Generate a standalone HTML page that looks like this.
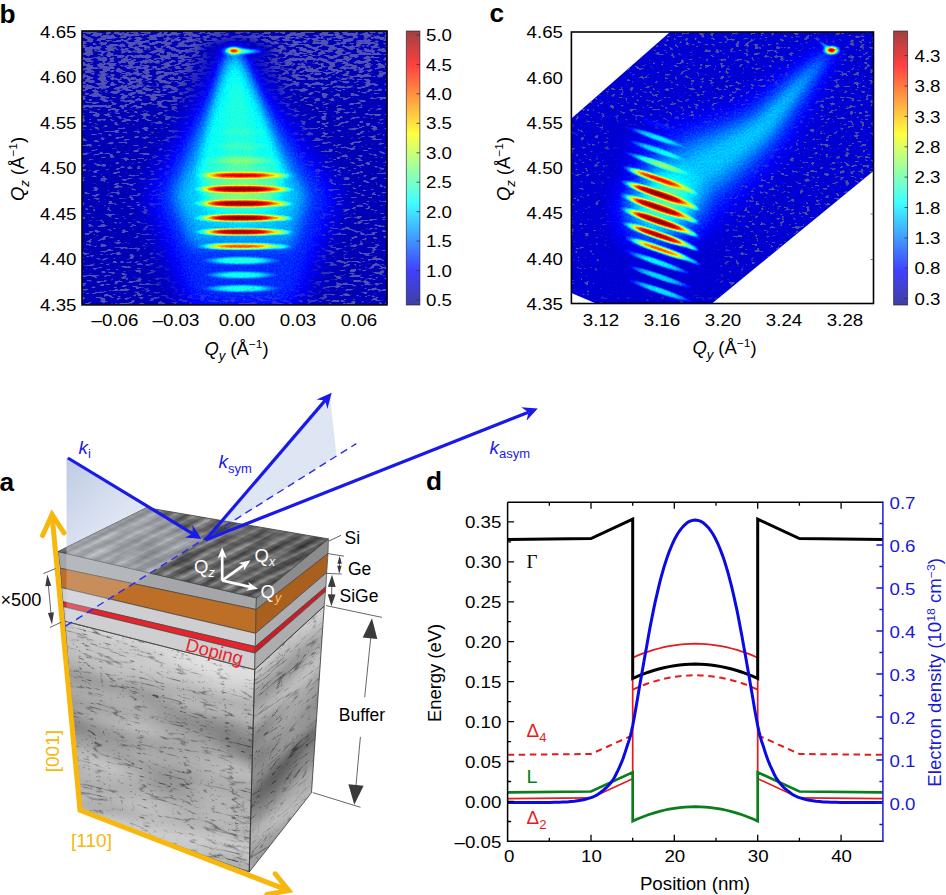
<!DOCTYPE html>
<html lang="en"><head><meta charset="utf-8"><title>Figure</title>
<style>
html,body{margin:0;padding:0;background:#fff;}
svg{display:block;font-family:"Liberation Sans", sans-serif;}
</style></head><body>
<svg width="946" height="895" viewBox="0 0 946 895">
<rect width="946" height="895" fill="#fff"/>
<defs>
<radialGradient id="blob"><stop offset="0" stop-color="#fff" stop-opacity="1"/><stop offset=".25" stop-color="#fff" stop-opacity=".88"/><stop offset=".5" stop-color="#fff" stop-opacity=".55"/><stop offset=".75" stop-color="#fff" stop-opacity=".2"/><stop offset="1" stop-color="#fff" stop-opacity="0"/></radialGradient>
<radialGradient id="blobf"><stop offset="0" stop-color="#fff" stop-opacity="1"/><stop offset=".38" stop-color="#fff" stop-opacity=".95"/><stop offset=".58" stop-color="#fff" stop-opacity=".7"/><stop offset=".78" stop-color="#fff" stop-opacity=".3"/><stop offset="1" stop-color="#fff" stop-opacity="0"/></radialGradient>
<linearGradient id="cbar" x1="0" y1="1" x2="0" y2="0">
<stop offset="0" stop-color="#4040a0"/><stop offset=".125" stop-color="#4040ff"/><stop offset=".375" stop-color="#40ffff"/><stop offset=".625" stop-color="#ffff40"/><stop offset=".875" stop-color="#ff4040"/><stop offset="1" stop-color="#a04040"/></linearGradient>
<filter id="jetb" filterUnits="userSpaceOnUse" x="82" y="31" width="306" height="274" color-interpolation-filters="sRGB">
<feTurbulence type="fractalNoise" baseFrequency="0.55" numOctaves="2" seed="3" result="n"/>
<feColorMatrix in="n" type="matrix" values="1 0 0 0 0 1 0 0 0 0 1 0 0 0 0 0 0 0 0 1" result="ng"/>
<feComposite in="SourceGraphic" in2="ng" operator="arithmetic" k1="0" k2="1" k3="0.09" k4="-0.045" result="v"/>
<feComponentTransfer in="v"><feFuncR type="table" tableValues="0 0 0 0 .5 1 1 1 .5"/><feFuncG type="table" tableValues="0 0 .5 1 1 1 .5 0 0"/><feFuncB type="table" tableValues=".5 1 1 1 .5 0 0 0 0"/></feComponentTransfer>
</filter>
<filter id="jetc" filterUnits="userSpaceOnUse" x="571" y="32" width="303" height="272" color-interpolation-filters="sRGB">
<feTurbulence type="fractalNoise" baseFrequency="0.55" numOctaves="2" seed="11" result="n"/>
<feColorMatrix in="n" type="matrix" values="1 0 0 0 0 1 0 0 0 0 1 0 0 0 0 0 0 0 0 1" result="ng"/>
<feComposite in="SourceGraphic" in2="ng" operator="arithmetic" k1="0" k2="1" k3="0.09" k4="-0.045" result="v"/>
<feComponentTransfer in="v"><feFuncR type="table" tableValues="0 0 0 0 .5 1 1 1 .5"/><feFuncG type="table" tableValues="0 0 .5 1 1 1 .5 0 0"/><feFuncB type="table" tableValues=".5 1 1 1 .5 0 0 0 0"/></feComponentTransfer>
</filter>
<filter id="spb" filterUnits="userSpaceOnUse" x="82" y="31" width="306" height="274" color-interpolation-filters="sRGB">
<feTurbulence type="fractalNoise" baseFrequency="0.14 0.36" numOctaves="2" seed="5" result="n"/>
<feComposite in="n" in2="SourceGraphic" operator="arithmetic" k1="0" k2="1" k3="0.5" k4="-0.25" result="m"/>
<feComponentTransfer in="m" result="t"><feFuncA type="linear" slope="14" intercept="-6.9"/></feComponentTransfer>
<feFlood flood-color="#5252b4" result="f"/>
<feComposite in="f" in2="t" operator="in"/>
</filter>
<filter id="spc" filterUnits="userSpaceOnUse" x="571" y="32" width="303" height="272" color-interpolation-filters="sRGB">
<feTurbulence type="fractalNoise" baseFrequency="0.2 0.34" numOctaves="2" seed="9" result="n"/>
<feComposite in="n" in2="SourceGraphic" operator="arithmetic" k1="0" k2="1" k3="0.5" k4="-0.25" result="m"/>
<feComponentTransfer in="m" result="t"><feFuncA type="linear" slope="14" intercept="-6.9"/></feComponentTransfer>
<feFlood flood-color="#5050a0" result="f"/>
<feComposite in="f" in2="t" operator="in"/>
</filter>
<clipPath id="clipb"><rect x="82" y="31" width="305.5" height="273.5"/></clipPath>
<clipPath id="clipc"><polygon points="670,32 873.5,32 873.5,171 712,303.5 596,303.5 571.4,293 571.4,118.5"/></clipPath>
<filter id="blur4" x="-30%" y="-30%" width="160%" height="160%"><feGaussianBlur stdDeviation="4"/></filter>
<filter id="blur7" x="-30%" y="-30%" width="160%" height="160%"><feGaussianBlur stdDeviation="7"/></filter>
<filter id="blur12" x="-30%" y="-30%" width="160%" height="160%"><feGaussianBlur stdDeviation="12"/></filter>
<filter id="blur2" x="-30%" y="-30%" width="160%" height="160%"><feGaussianBlur stdDeviation="2"/></filter>
<filter id="blur3" x="-30%" y="-30%" width="160%" height="160%"><feGaussianBlur stdDeviation="3"/></filter>
<linearGradient id="spdb" gradientUnits="userSpaceOnUse" x1="0" y1="31" x2="30" y2="305"><stop offset="0" stop-color="#000" stop-opacity=".60"/><stop offset=".25" stop-color="#000" stop-opacity=".57"/><stop offset=".4" stop-color="#000" stop-opacity=".31"/><stop offset=".75" stop-color="#000" stop-opacity=".27"/><stop offset="1" stop-color="#000" stop-opacity=".37"/></linearGradient>
<mask id="mkb" maskUnits="userSpaceOnUse" x="82" y="31" width="306" height="274"><rect x="82" y="31" width="306" height="274" fill="#fff"/><g filter="url(#blur12)"><polygon points="233.5,36 205,50 150,200 160,300 320,300 330,200 262,50" fill="#000"/></g><g filter="url(#blur3)"><ellipse cx="238" cy="51" rx="34" ry="9" fill="#000"/></g></mask>
<mask id="mkc" maskUnits="userSpaceOnUse" x="571" y="32" width="303" height="272"><rect x="571" y="32" width="303" height="272" fill="#fff"/><g filter="url(#blur7)"><polygon points="612,120 600,300 720,300 728,200 790,140 846,52 824,36 760,100 690,128" fill="#000"/></g></mask>
<linearGradient id="spdc" gradientUnits="userSpaceOnUse" x1="590" y1="290" x2="860" y2="50"><stop offset="0" stop-color="#000" stop-opacity=".14"/><stop offset=".45" stop-color="#000" stop-opacity=".22"/><stop offset="1" stop-color="#000" stop-opacity=".28"/></linearGradient>
<clipPath id="clipLf"><polygon points="64.8,621.2 254.7,669.7 249.2,872.1 80,810.3"/></clipPath>
<clipPath id="clipRf"><polygon points="254.7,669.7 324.2,606.1 311.5,792.6 249.2,872.1"/></clipPath>
<clipPath id="clipTop"><polygon points="58.1,551.5 146.6,507.6 328.4,538.9 256.4,597.9"/></clipPath>
<linearGradient id="plane1" gradientUnits="userSpaceOnUse" x1="62" y1="470" x2="150" y2="560"><stop offset="0" stop-color="#bccae3" stop-opacity=".95"/><stop offset=".45" stop-color="#d3dcee" stop-opacity=".9"/><stop offset="1" stop-color="#e9eef7" stop-opacity=".85"/></linearGradient>
<linearGradient id="plane2" gradientUnits="userSpaceOnUse" x1="205" y1="540" x2="335" y2="430"><stop offset="0" stop-color="#c5d2ea" stop-opacity=".55"/><stop offset="1" stop-color="#d3ddef" stop-opacity=".75"/></linearGradient>
<linearGradient id="temL" gradientUnits="userSpaceOnUse" x1="0" y1="630" x2="0" y2="836"><stop offset="0" stop-color="#d9d9d9"/><stop offset=".07" stop-color="#d3d3d3"/><stop offset=".15" stop-color="#bebebe"/><stop offset=".27" stop-color="#aeaeae"/><stop offset=".38" stop-color="#9e9e9e"/><stop offset=".5" stop-color="#a7a7a7"/><stop offset=".68" stop-color="#b2b2b2"/><stop offset=".85" stop-color="#b8b8b8"/><stop offset="1" stop-color="#c9c9c9"/></linearGradient>
<linearGradient id="temR" gradientUnits="userSpaceOnUse" x1="0" y1="705" x2="0" y2="918"><stop offset="0" stop-color="#c4c4c4"/><stop offset=".1" stop-color="#adadad"/><stop offset=".3" stop-color="#9a9a9a"/><stop offset=".55" stop-color="#8b8b8b"/><stop offset=".8" stop-color="#8e8e8e"/><stop offset="1" stop-color="#a5a5a5"/></linearGradient>
<filter id="tem1" x="0" y="0" width="1" height="1" color-interpolation-filters="sRGB"><feTurbulence type="turbulence" baseFrequency="0.022 0.13" numOctaves="2" seed="4" result="t"/><feColorMatrix in="t" type="matrix" values="4.5 0 0 0 0.56 4.5 0 0 0 0.56 4.5 0 0 0 0.56 0 0 0 0 1" result="v"/><feTurbulence type="turbulence" baseFrequency="0.0484 0.169" numOctaves="2" seed="13" result="t2"/><feColorMatrix in="t2" type="matrix" values="0 4.800000000000001 0 0 0.68 0 4.800000000000001 0 0 0.68 0 4.800000000000001 0 0 0.68 0 0 0 0 1" result="v2"/><feTurbulence type="fractalNoise" baseFrequency="0.007699999999999999 0.026000000000000002" numOctaves="2" seed="9" result="c"/><feColorMatrix in="c" type="matrix" values="1.4 0 0 0 -.2 1.4 0 0 0 -.2 1.4 0 0 0 -.2 0 0 0 0 1" result="cl"/><feBlend in="v" in2="SourceGraphic" mode="multiply" result="m"/><feBlend in="v2" in2="m" mode="multiply" result="m2"/><feBlend in="cl" in2="m2" mode="soft-light"/></filter>
<filter id="tem2" x="0" y="0" width="1" height="1" color-interpolation-filters="sRGB"><feTurbulence type="turbulence" baseFrequency="0.03 0.11" numOctaves="2" seed="21" result="t"/><feColorMatrix in="t" type="matrix" values="4.5 0 0 0 0.54 4.5 0 0 0 0.54 4.5 0 0 0 0.54 0 0 0 0 1" result="v"/><feTurbulence type="turbulence" baseFrequency="0.066 0.14300000000000002" numOctaves="2" seed="30" result="t2"/><feColorMatrix in="t2" type="matrix" values="0 4.800000000000001 0 0 0.66 0 4.800000000000001 0 0 0.66 0 4.800000000000001 0 0 0.66 0 0 0 0 1" result="v2"/><feTurbulence type="fractalNoise" baseFrequency="0.010499999999999999 0.022000000000000002" numOctaves="2" seed="26" result="c"/><feColorMatrix in="c" type="matrix" values="1.4 0 0 0 -.2 1.4 0 0 0 -.2 1.4 0 0 0 -.2 0 0 0 0 1" result="cl"/><feBlend in="v" in2="SourceGraphic" mode="multiply" result="m"/><feBlend in="v2" in2="m" mode="multiply" result="m2"/><feBlend in="cl" in2="m2" mode="soft-light"/></filter>
<linearGradient id="afm1" gradientUnits="userSpaceOnUse" x1="0" y1="0" x2="4.4" y2="8.9" spreadMethod="repeat"><stop offset="0" stop-color="#fff" stop-opacity=".0"/><stop offset=".3" stop-color="#fff" stop-opacity=".34"/><stop offset=".55" stop-color="#000" stop-opacity=".0"/><stop offset=".8" stop-color="#000" stop-opacity=".3"/><stop offset="1" stop-color="#000" stop-opacity="0"/></linearGradient>
<linearGradient id="afm2" gradientUnits="userSpaceOnUse" x1="0" y1="0" x2="-1.5" y2="6.4" spreadMethod="repeat"><stop offset="0" stop-color="#000" stop-opacity=".0"/><stop offset=".5" stop-color="#000" stop-opacity=".16"/><stop offset="1" stop-color="#000" stop-opacity="0"/></linearGradient>
<filter id="afmn" x="0" y="0" width="1" height="1" color-interpolation-filters="sRGB"><feTurbulence type="fractalNoise" baseFrequency="0.03 0.12" numOctaves="2" seed="2"/><feColorMatrix type="matrix" values="1.4 0 0 0 -.2 1.4 0 0 0 -.2 1.4 0 0 0 -.2 0 0 0 0 1"/></filter>
<linearGradient id="topshade" gradientUnits="userSpaceOnUse" x1="80" y1="560" x2="320" y2="560"><stop offset="0" stop-color="#fff" stop-opacity=".12"/><stop offset=".5" stop-color="#000" stop-opacity=".0"/><stop offset="1" stop-color="#000" stop-opacity=".12"/></linearGradient>
<clipPath id="clipBlk"><polygon points="58.1,551.5 146.6,507.6 328.4,538.9 256.4,597.9 249.2,872.1 80,810.3"/></clipPath>
<linearGradient id="plane1b" gradientUnits="userSpaceOnUse" x1="68" y1="0" x2="205" y2="0"><stop offset="0" stop-color="#e6ecf8" stop-opacity=".26"/><stop offset="1" stop-color="#e6ecf8" stop-opacity=".2"/></linearGradient>
</defs>
<g clip-path="url(#clipb)"><g filter="url(#jetb)">
<rect x="80" y="29" width="312" height="280" fill="#0e0e0e"/>
<g filter="url(#blur12)" opacity="1">
<polygon points="233,45 148,195 190,310 296,310 338,195" fill="#fff" opacity=".12"/>
</g>
<g filter="url(#blur7)">
<polygon points="233.5,48 172,196 192,246 292,246 308,196" fill="#fff" opacity=".15"/>
</g>
<g filter="url(#blur4)">
<polygon points="233.5,50 223,56 198,172 210,206 274,206 284,172 245,56" fill="#fff" opacity=".13"/>
</g>
<g filter="url(#blur3)"><polygon points="233.5,56 222,150 228,172 252,172 256,150 237,56" fill="#fff" opacity=".03"/></g>
<ellipse cx="241.0" cy="194.0" rx="64.0" ry="46.0" fill="url(#blob)" opacity="0.200"/>
<ellipse cx="241.0" cy="131.5" rx="30.0" ry="5.0" fill="url(#blobf)" opacity="0.030"/>
<ellipse cx="241.0" cy="146.0" rx="34.0" ry="5.0" fill="url(#blobf)" opacity="0.050"/>
<ellipse cx="241.0" cy="160.5" rx="40.0" ry="5.5" fill="url(#blobf)" opacity="0.120"/>
<ellipse cx="224.0" cy="175.3" rx="28.8" ry="4.3" fill="url(#blob)" opacity="0.605"/>
<ellipse cx="259.0" cy="175.3" rx="30.2" ry="4.3" fill="url(#blob)" opacity="0.605"/>
<ellipse cx="281.0" cy="175.8" rx="14.0" ry="3.4" fill="url(#blob)" opacity="0.202"/>
<ellipse cx="241.0" cy="175.3" rx="36.0" ry="4.6" fill="url(#blob)" opacity="0.720"/>
<ellipse cx="224.0" cy="189.1" rx="31.2" ry="4.6" fill="url(#blob)" opacity="0.840"/>
<ellipse cx="259.0" cy="189.1" rx="32.8" ry="4.6" fill="url(#blob)" opacity="0.840"/>
<ellipse cx="281.0" cy="189.6" rx="14.0" ry="3.4" fill="url(#blob)" opacity="0.280"/>
<ellipse cx="241.0" cy="189.1" rx="39.0" ry="4.9" fill="url(#blob)" opacity="1.000"/>
<ellipse cx="224.0" cy="203.5" rx="31.2" ry="4.6" fill="url(#blob)" opacity="0.815"/>
<ellipse cx="259.0" cy="203.5" rx="32.8" ry="4.6" fill="url(#blob)" opacity="0.815"/>
<ellipse cx="281.0" cy="204.0" rx="14.0" ry="3.4" fill="url(#blob)" opacity="0.272"/>
<ellipse cx="241.0" cy="203.5" rx="39.0" ry="4.9" fill="url(#blob)" opacity="0.970"/>
<ellipse cx="224.0" cy="217.9" rx="31.2" ry="4.6" fill="url(#blob)" opacity="0.840"/>
<ellipse cx="259.0" cy="217.9" rx="32.8" ry="4.6" fill="url(#blob)" opacity="0.840"/>
<ellipse cx="281.0" cy="218.4" rx="14.0" ry="3.4" fill="url(#blob)" opacity="0.280"/>
<ellipse cx="241.0" cy="217.9" rx="39.0" ry="4.9" fill="url(#blob)" opacity="1.000"/>
<ellipse cx="224.0" cy="231.9" rx="30.4" ry="4.5" fill="url(#blob)" opacity="0.773"/>
<ellipse cx="259.0" cy="231.9" rx="31.9" ry="4.5" fill="url(#blob)" opacity="0.773"/>
<ellipse cx="281.0" cy="232.4" rx="14.0" ry="3.4" fill="url(#blob)" opacity="0.258"/>
<ellipse cx="241.0" cy="231.9" rx="38.0" ry="4.8" fill="url(#blob)" opacity="0.920"/>
<ellipse cx="224.0" cy="246.3" rx="29.6" ry="4.3" fill="url(#blob)" opacity="0.504"/>
<ellipse cx="259.0" cy="246.3" rx="31.1" ry="4.3" fill="url(#blob)" opacity="0.504"/>
<ellipse cx="281.0" cy="246.8" rx="14.0" ry="3.4" fill="url(#blob)" opacity="0.168"/>
<ellipse cx="241.0" cy="246.3" rx="37.0" ry="4.6" fill="url(#blob)" opacity="0.600"/>
<ellipse cx="241.0" cy="260.6" rx="41.0" ry="4.8" fill="url(#blobf)" opacity="0.300"/>
<ellipse cx="241.0" cy="275.0" rx="38.0" ry="4.6" fill="url(#blobf)" opacity="0.270"/>
<ellipse cx="241.0" cy="288.5" rx="40.0" ry="4.6" fill="url(#blobf)" opacity="0.290"/>
<ellipse cx="247.0" cy="51.3" rx="21.0" ry="4.0" fill="url(#blob)" opacity="0.300"/>
<ellipse cx="234.5" cy="50.9" rx="17.0" ry="6.5" fill="url(#blob)" opacity="0.300"/>
<ellipse cx="233.6" cy="50.7" rx="9.0" ry="4.4" fill="url(#blob)" opacity="0.740"/>
</g>
<g mask="url(#mkb)"><g filter="url(#spb)">
<rect x="82" y="31" width="306" height="274" fill="url(#spdb)"/>
</g></g>
</g>
<rect x="82.0" y="31.0" width="304.9" height="273.9" fill="none" stroke="#000" stroke-width="1.6"/>
<rect x="406.3" y="31" width="13.6" height="274" fill="url(#cbar)" stroke="#1a1a40" stroke-opacity=".7" stroke-width=".9"/>
<line x1="416.5" x2="420" y1="300.0" y2="300.0" stroke="#333" stroke-width=".8"/>
<text transform="translate(426.0,306.1) scale(1.1,1)" font-size="17" fill="#000">0.5</text>
<line x1="416.5" x2="420" y1="270.6" y2="270.6" stroke="#333" stroke-width=".8"/>
<text transform="translate(426.0,276.7) scale(1.1,1)" font-size="17" fill="#000">1.0</text>
<line x1="416.5" x2="420" y1="241.1" y2="241.1" stroke="#333" stroke-width=".8"/>
<text transform="translate(426.0,247.2) scale(1.1,1)" font-size="17" fill="#000">1.5</text>
<line x1="416.5" x2="420" y1="211.7" y2="211.7" stroke="#333" stroke-width=".8"/>
<text transform="translate(426.0,217.8) scale(1.1,1)" font-size="17" fill="#000">2.0</text>
<line x1="416.5" x2="420" y1="182.2" y2="182.2" stroke="#333" stroke-width=".8"/>
<text transform="translate(426.0,188.3) scale(1.1,1)" font-size="17" fill="#000">2.5</text>
<line x1="416.5" x2="420" y1="152.8" y2="152.8" stroke="#333" stroke-width=".8"/>
<text transform="translate(426.0,158.8) scale(1.1,1)" font-size="17" fill="#000">3.0</text>
<line x1="416.5" x2="420" y1="123.3" y2="123.3" stroke="#333" stroke-width=".8"/>
<text transform="translate(426.0,129.4) scale(1.1,1)" font-size="17" fill="#000">3.5</text>
<line x1="416.5" x2="420" y1="93.8" y2="93.8" stroke="#333" stroke-width=".8"/>
<text transform="translate(426.0,99.9) scale(1.1,1)" font-size="17" fill="#000">4.0</text>
<line x1="416.5" x2="420" y1="64.4" y2="64.4" stroke="#333" stroke-width=".8"/>
<text transform="translate(426.0,70.5) scale(1.1,1)" font-size="17" fill="#000">4.5</text>
<line x1="416.5" x2="420" y1="34.9" y2="34.9" stroke="#333" stroke-width=".8"/>
<text transform="translate(426.0,41.0) scale(1.1,1)" font-size="17" fill="#000">5.0</text>
<text transform="translate(76.5,37.6) scale(1.1,1)" font-size="17" text-anchor="end" fill="#000">4.65</text>
<text transform="translate(76.5,83.1) scale(1.1,1)" font-size="17" text-anchor="end" fill="#000">4.60</text>
<text transform="translate(76.5,128.6) scale(1.1,1)" font-size="17" text-anchor="end" fill="#000">4.55</text>
<text transform="translate(76.5,174.1) scale(1.1,1)" font-size="17" text-anchor="end" fill="#000">4.50</text>
<text transform="translate(76.5,219.6) scale(1.1,1)" font-size="17" text-anchor="end" fill="#000">4.45</text>
<text transform="translate(76.5,265.1) scale(1.1,1)" font-size="17" text-anchor="end" fill="#000">4.40</text>
<text transform="translate(76.5,310.6) scale(1.1,1)" font-size="17" text-anchor="end" fill="#000">4.35</text>
<text transform="translate(115.0,326.3) scale(1.1,1)" font-size="17" text-anchor="middle" fill="#000">–0.06</text>
<text transform="translate(176.0,326.3) scale(1.1,1)" font-size="17" text-anchor="middle" fill="#000">–0.03</text>
<text transform="translate(237.0,326.3) scale(1.1,1)" font-size="17" text-anchor="middle" fill="#000">0.00</text>
<text transform="translate(298.0,326.3) scale(1.1,1)" font-size="17" text-anchor="middle" fill="#000">0.03</text>
<text transform="translate(359.0,326.3) scale(1.1,1)" font-size="17" text-anchor="middle" fill="#000">0.06</text>
<text transform="translate(236.5,354.5) scale(1.05,1)" font-size="17.5" text-anchor="middle" fill="#000"><tspan font-style="italic">Q<tspan dy="5" font-size="12.5">y</tspan></tspan><tspan dy="-5"> (Å</tspan><tspan dy="-7" font-size="11.5">−1</tspan><tspan dy="7">)</tspan></text>
<text transform="translate(23.5,169.0) rotate(-90) scale(1.05,1)" font-size="17.5" text-anchor="middle" fill="#000"><tspan font-style="italic">Q<tspan dy="5" font-size="12.5">z</tspan></tspan><tspan dy="-5"> (Å</tspan><tspan dy="-7" font-size="11.5">−1</tspan><tspan dy="7">)</tspan></text>
<text transform="translate(-0.5,23.0) scale(1.05,1)" font-size="25" font-weight="bold" fill="#000">b</text>
<g clip-path="url(#clipc)"><g filter="url(#jetc)">
<rect x="569" y="30" width="308" height="277" fill="#151515"/>
<g filter="url(#blur12)"><polygon points="828.0,48.1 806.5,62.1 782.9,78.4 762.3,94.5 744.8,106.9 728.4,112.6 711.1,117.7 692.2,123.5 674.9,129.5 650.3,141.6 630.4,156.6 697.6,233.4 709.7,220.4 723.1,207.7 735.8,196.5 751.3,180.9 765.6,165.4 782.0,146.5 795.7,123.5 808.5,100.8 821.5,75.9 834.2,53.9" fill="#fff" opacity=".11"/></g>
<g filter="url(#blur7)"><polygon points="829.3,49.3 809.6,64.9 788.2,83.0 769.2,100.5 752.5,115.0 736.1,123.4 719.4,130.7 701.1,138.6 684.8,145.6 662.5,157.8 644.2,172.4 683.8,217.6 697.5,204.2 713.2,191.6 726.9,181.4 743.0,167.9 757.9,154.6 774.3,138.4 788.8,117.5 803.2,96.2 818.4,73.1 832.9,52.7" fill="#fff" opacity=".11"/></g>
<g filter="url(#blur4)"><polygon points="830.2,50.1 811.8,67.0 791.9,86.3 774.1,104.7 757.9,120.9 741.5,131.2 725.3,140.0 707.6,149.3 691.9,157.1 671.3,169.4 654.1,183.7 673.9,206.3 688.7,192.6 706.1,180.1 720.4,170.7 737.1,158.6 752.5,146.8 768.9,132.5 783.9,113.3 799.5,92.9 816.2,71.0 832.0,51.9" fill="#fff" opacity=".06"/></g>
<ellipse cx="659.0" cy="210.0" rx="58.0" ry="58.0" fill="url(#blob)" opacity="0.220" transform="rotate(12 659.0 210.0)"/>
<ellipse cx="658.0" cy="207.0" rx="40.0" ry="36.0" fill="url(#blob)" opacity="0.220" transform="rotate(12 658.0 207.0)"/>
<ellipse cx="655.5" cy="123.5" rx="24.2" ry="3.6" fill="url(#blobf)" opacity="0.050" transform="rotate(19 655.5 123.5)"/>
<ellipse cx="656.0" cy="137.2" rx="31.9" ry="3.8" fill="url(#blobf)" opacity="0.260" transform="rotate(19 656.0 137.2)"/>
<ellipse cx="657.0" cy="150.3" rx="31.9" ry="3.8" fill="url(#blobf)" opacity="0.240" transform="rotate(19 657.0 150.3)"/>
<ellipse cx="657.2" cy="163.4" rx="35.2" ry="4.0" fill="url(#blobf)" opacity="0.340" transform="rotate(19 657.2 163.4)"/>
<ellipse cx="643.5" cy="174.0" rx="24.0" ry="4.5" fill="url(#blob)" opacity="0.588" transform="rotate(19 643.5 174.0)"/>
<ellipse cx="671.4" cy="183.6" rx="25.2" ry="4.5" fill="url(#blob)" opacity="0.588" transform="rotate(19 671.4 183.6)"/>
<ellipse cx="690.3" cy="191.1" rx="11.0" ry="3.2" fill="url(#blob)" opacity="0.210" transform="rotate(24 690.3 191.1)"/>
<ellipse cx="657.2" cy="178.7" rx="30.0" ry="4.8" fill="url(#blob)" opacity="0.700" transform="rotate(19 657.2 178.7)"/>
<ellipse cx="644.6" cy="189.3" rx="26.4" ry="4.8" fill="url(#blob)" opacity="0.840" transform="rotate(19 644.6 189.3)"/>
<ellipse cx="672.5" cy="198.9" rx="27.7" ry="4.8" fill="url(#blob)" opacity="0.840" transform="rotate(19 672.5 198.9)"/>
<ellipse cx="691.4" cy="206.4" rx="11.0" ry="3.2" fill="url(#blob)" opacity="0.300" transform="rotate(24 691.4 206.4)"/>
<ellipse cx="658.3" cy="194.0" rx="33.0" ry="5.2" fill="url(#blob)" opacity="1.000" transform="rotate(19 658.3 194.0)"/>
<ellipse cx="644.1" cy="202.7" rx="26.4" ry="4.8" fill="url(#blob)" opacity="0.815" transform="rotate(19 644.1 202.7)"/>
<ellipse cx="672.0" cy="212.3" rx="27.7" ry="4.8" fill="url(#blob)" opacity="0.815" transform="rotate(19 672.0 212.3)"/>
<ellipse cx="690.9" cy="219.8" rx="11.0" ry="3.2" fill="url(#blob)" opacity="0.291" transform="rotate(24 690.9 219.8)"/>
<ellipse cx="657.8" cy="207.4" rx="33.0" ry="5.2" fill="url(#blob)" opacity="0.970" transform="rotate(19 657.8 207.4)"/>
<ellipse cx="644.6" cy="216.5" rx="26.4" ry="4.8" fill="url(#blob)" opacity="0.840" transform="rotate(19 644.6 216.5)"/>
<ellipse cx="672.5" cy="226.1" rx="27.7" ry="4.8" fill="url(#blob)" opacity="0.840" transform="rotate(19 672.5 226.1)"/>
<ellipse cx="691.4" cy="233.6" rx="11.0" ry="3.2" fill="url(#blob)" opacity="0.300" transform="rotate(24 691.4 233.6)"/>
<ellipse cx="658.3" cy="221.2" rx="33.0" ry="5.2" fill="url(#blob)" opacity="1.000" transform="rotate(19 658.3 221.2)"/>
<ellipse cx="644.9" cy="230.6" rx="25.6" ry="4.7" fill="url(#blob)" opacity="0.756" transform="rotate(19 644.9 230.6)"/>
<ellipse cx="672.8" cy="240.2" rx="26.9" ry="4.7" fill="url(#blob)" opacity="0.756" transform="rotate(19 672.8 240.2)"/>
<ellipse cx="691.7" cy="247.7" rx="11.0" ry="3.2" fill="url(#blob)" opacity="0.270" transform="rotate(24 691.7 247.7)"/>
<ellipse cx="658.6" cy="235.3" rx="32.0" ry="5.1" fill="url(#blob)" opacity="0.900" transform="rotate(19 658.6 235.3)"/>
<ellipse cx="646.8" cy="244.8" rx="24.8" ry="4.5" fill="url(#blob)" opacity="0.521" transform="rotate(19 646.8 244.8)"/>
<ellipse cx="674.7" cy="254.4" rx="26.0" ry="4.5" fill="url(#blob)" opacity="0.521" transform="rotate(19 674.7 254.4)"/>
<ellipse cx="693.6" cy="261.9" rx="11.0" ry="3.2" fill="url(#blob)" opacity="0.186" transform="rotate(24 693.6 261.9)"/>
<ellipse cx="660.5" cy="249.5" rx="31.0" ry="4.8" fill="url(#blob)" opacity="0.620" transform="rotate(19 660.5 249.5)"/>
<ellipse cx="658.5" cy="262.6" rx="37.4" ry="4.0" fill="url(#blobf)" opacity="0.300" transform="rotate(19 658.5 262.6)"/>
<ellipse cx="659.4" cy="276.7" rx="36.3" ry="4.0" fill="url(#blobf)" opacity="0.280" transform="rotate(19 659.4 276.7)"/>
<ellipse cx="660.5" cy="290.9" rx="36.3" ry="4.0" fill="url(#blobf)" opacity="0.300" transform="rotate(19 660.5 290.9)"/>
<ellipse cx="826.0" cy="46.5" rx="12.0" ry="2.6" fill="url(#blob)" opacity="0.200" transform="rotate(35 826.0 46.5)"/>
<ellipse cx="831.6" cy="50.3" rx="9.5" ry="5.6" fill="url(#blob)" opacity="0.950"/>
</g>
<g mask="url(#mkc)"><g filter="url(#spc)"><rect x="571" y="32" width="303" height="272" fill="url(#spdc)"/></g></g>
</g>
<rect x="571.4" y="32.0" width="302.1" height="271.5" fill="none" stroke="#000" stroke-width="1.6"/>
<line x1="870.5" x2="873" y1="77.5" y2="77.5" stroke="#444" stroke-width=".7"/>
<line x1="870.5" x2="873" y1="123" y2="123" stroke="#444" stroke-width=".7"/>
<line x1="870.5" x2="873" y1="168.5" y2="168.5" stroke="#444" stroke-width=".7"/>
<line x1="870.5" x2="873" y1="214" y2="214" stroke="#444" stroke-width=".7"/>
<line x1="870.5" x2="873" y1="259.5" y2="259.5" stroke="#444" stroke-width=".7"/>
<rect x="893.6" y="31" width="14" height="274" fill="url(#cbar)" stroke="#1a1a40" stroke-opacity=".7" stroke-width=".9"/>
<line x1="904.5" x2="907.8" y1="298.6" y2="298.6" stroke="#333" stroke-width=".8"/>
<text transform="translate(914.5,304.7) scale(1.1,1)" font-size="17" fill="#000">0.3</text>
<line x1="904.5" x2="907.8" y1="268.2" y2="268.2" stroke="#333" stroke-width=".8"/>
<text transform="translate(914.5,274.3) scale(1.1,1)" font-size="17" fill="#000">0.8</text>
<line x1="904.5" x2="907.8" y1="237.9" y2="237.9" stroke="#333" stroke-width=".8"/>
<text transform="translate(914.5,244.0) scale(1.1,1)" font-size="17" fill="#000">1.3</text>
<line x1="904.5" x2="907.8" y1="207.5" y2="207.5" stroke="#333" stroke-width=".8"/>
<text transform="translate(914.5,213.6) scale(1.1,1)" font-size="17" fill="#000">1.8</text>
<line x1="904.5" x2="907.8" y1="177.1" y2="177.1" stroke="#333" stroke-width=".8"/>
<text transform="translate(914.5,183.2) scale(1.1,1)" font-size="17" fill="#000">2.3</text>
<line x1="904.5" x2="907.8" y1="146.8" y2="146.8" stroke="#333" stroke-width=".8"/>
<text transform="translate(914.5,152.9) scale(1.1,1)" font-size="17" fill="#000">2.8</text>
<line x1="904.5" x2="907.8" y1="116.4" y2="116.4" stroke="#333" stroke-width=".8"/>
<text transform="translate(914.5,122.5) scale(1.1,1)" font-size="17" fill="#000">3.3</text>
<line x1="904.5" x2="907.8" y1="86.0" y2="86.0" stroke="#333" stroke-width=".8"/>
<text transform="translate(914.5,92.1) scale(1.1,1)" font-size="17" fill="#000">3.8</text>
<line x1="904.5" x2="907.8" y1="55.6" y2="55.6" stroke="#333" stroke-width=".8"/>
<text transform="translate(914.5,61.7) scale(1.1,1)" font-size="17" fill="#000">4.3</text>
<text transform="translate(563.0,38.4) scale(1.1,1)" font-size="17" text-anchor="end" fill="#000">4.65</text>
<text transform="translate(563.0,83.6) scale(1.1,1)" font-size="17" text-anchor="end" fill="#000">4.60</text>
<text transform="translate(563.0,128.9) scale(1.1,1)" font-size="17" text-anchor="end" fill="#000">4.55</text>
<text transform="translate(563.0,174.2) scale(1.1,1)" font-size="17" text-anchor="end" fill="#000">4.50</text>
<text transform="translate(563.0,219.4) scale(1.1,1)" font-size="17" text-anchor="end" fill="#000">4.45</text>
<text transform="translate(563.0,264.7) scale(1.1,1)" font-size="17" text-anchor="end" fill="#000">4.40</text>
<text transform="translate(563.0,309.9) scale(1.1,1)" font-size="17" text-anchor="end" fill="#000">4.35</text>
<text transform="translate(601.0,326.3) scale(1.1,1)" font-size="17" text-anchor="middle" fill="#000">3.12</text>
<text transform="translate(662.0,326.3) scale(1.1,1)" font-size="17" text-anchor="middle" fill="#000">3.16</text>
<text transform="translate(723.0,326.3) scale(1.1,1)" font-size="17" text-anchor="middle" fill="#000">3.20</text>
<text transform="translate(784.0,326.3) scale(1.1,1)" font-size="17" text-anchor="middle" fill="#000">3.24</text>
<text transform="translate(845.0,326.3) scale(1.1,1)" font-size="17" text-anchor="middle" fill="#000">3.28</text>
<text transform="translate(724.5,354.0) scale(1.05,1)" font-size="17.5" text-anchor="middle" fill="#000"><tspan font-style="italic">Q<tspan dy="5" font-size="12.5">y</tspan></tspan><tspan dy="-5"> (Å</tspan><tspan dy="-7" font-size="11.5">−1</tspan><tspan dy="7">)</tspan></text>
<text transform="translate(510.0,169.0) rotate(-90) scale(1.05,1)" font-size="17.5" text-anchor="middle" fill="#000"><tspan font-style="italic">Q<tspan dy="5" font-size="12.5">z</tspan></tspan><tspan dy="-5"> (Å</tspan><tspan dy="-7" font-size="11.5">−1</tspan><tspan dy="7">)</tspan></text>
<text transform="translate(489.5,22.0) scale(1.05,1)" font-size="25" font-weight="bold" fill="#000">c</text>
<polygon points="205,539.5 330,396 336.5,455.5" fill="url(#plane2)"/>
<polygon points="66.5,457.3 205,539.5 66.5,625.5" fill="url(#plane1)"/>
<g clip-path="url(#clipLf)"><rect x="40" y="600" width="240" height="300" fill="url(#temL)" filter="url(#tem1)" transform="matrix(1 .256 .085 1 0 0) translate(-58 -12)"/></g>
<g clip-path="url(#clipRf)"><rect x="240" y="540" width="120" height="380" fill="url(#temR)" filter="url(#tem2)" transform="matrix(1 -.86 -.06 1 0 0) translate(38 228)"/></g>
<polygon points="58.1,551.5 256.4,597.9 256.1,609.5 60.1,568.2" fill="#a4a6a9" stroke="#444" stroke-width=".7" stroke-linejoin="round"/>
<polygon points="256.4,597.9 328.4,538.9 328.0,553.6 256.1,609.5" fill="#8c8c8d" stroke="#444" stroke-width=".7" stroke-linejoin="round"/>
<polygon points="60.1,568.2 256.1,609.5 255.6,633.4 61.6,587.7" fill="#bd6e27" stroke="#444" stroke-width=".7" stroke-linejoin="round"/>
<polygon points="256.1,609.5 328.0,553.6 326.7,572.6 255.6,633.4" fill="#a9601f" stroke="#444" stroke-width=".7" stroke-linejoin="round"/>
<polygon points="61.6,587.7 255.6,633.4 255.3,646.5 62.9,601.7" fill="#cfcfd1" stroke="#444" stroke-width=".7" stroke-linejoin="round"/>
<polygon points="255.6,633.4 326.7,572.6 325.9,586.7 255.3,646.5" fill="#adadaf" stroke="#444" stroke-width=".7" stroke-linejoin="round"/>
<polygon points="62.9,601.7 255.3,646.5 255.1,653.2 63.4,606.7" fill="#e8232c" stroke="#444" stroke-width=".7" stroke-linejoin="round"/>
<polygon points="255.3,646.5 325.9,586.7 325.5,591.6 255.1,653.2" fill="#c81c26" stroke="#444" stroke-width=".7" stroke-linejoin="round"/>
<polygon points="63.4,606.7 255.1,653.2 254.7,669.7 64.8,621.2" fill="#cfcfd1" stroke="#444" stroke-width=".7" stroke-linejoin="round"/>
<polygon points="255.1,653.2 325.5,591.6 324.2,606.1 254.7,669.7" fill="#adadaf" stroke="#444" stroke-width=".7" stroke-linejoin="round"/>
<polygon points="64.8,621.2 254.7,669.7 249.2,872.1 80.0,810.3" fill="none" stroke="#444" stroke-width=".8"/>
<polygon points="254.7,669.7 324.2,606.1 311.5,792.6 249.2,872.1" fill="none" stroke="#333" stroke-width=".8"/>
<polygon points="58.1,551.5 146.6,507.6 328.4,538.9 256.4,597.9" fill="#6a6a6b"/>
<g clip-path="url(#clipTop)"><rect x="40" y="500" width="300" height="110" fill="url(#afm1)"/><rect x="40" y="500" width="300" height="110" fill="url(#afm2)"/><rect x="40" y="500" width="300" height="110" filter="url(#afmn)" opacity=".28" transform="rotate(-26 190 550)"/><rect x="40" y="500" width="300" height="110" fill="url(#topshade)"/></g>
<polygon points="58.1,551.5 146.6,507.6 328.4,538.9 256.4,597.9" fill="none" stroke="#444" stroke-width=".8"/>
<g clip-path="url(#clipBlk)"><polygon points="66.5,457.3 205,539.5 66.5,625.5" fill="url(#plane1b)"/></g>
<g clip-path="url(#clipTop)"><polygon points="66.5,457.3 205,539.5 66.5,625.5" fill="#dfe6f4" opacity=".22"/></g>
<line x1="65.5" y1="626.2" x2="356.3" y2="443.6" stroke="#2a2aec" stroke-width="1.4" stroke-dasharray="7.5 5"/>
<line x1="67.9" y1="458.0" x2="192.9" y2="533.8" stroke="#1a1ae8" stroke-width="3.2"/><polygon points="201.5,539.0 184.9,537.4 192.9,533.8 192.4,525.1" fill="#1a1ae8"/>
<line x1="205.5" y1="540.0" x2="325.2" y2="400.4" stroke="#1a1ae8" stroke-width="3.2"/><polygon points="331.7,392.8 327.4,408.9 325.2,400.4 316.5,399.5" fill="#1a1ae8"/>
<line x1="205.5" y1="540.0" x2="528.5" y2="412.2" stroke="#1a1ae8" stroke-width="3.2"/><polygon points="537.8,408.5 526.5,420.7 528.5,412.2 521.2,407.3" fill="#1a1ae8"/>
<text transform="translate(78.5,453.5) scale(1.0,1)" font-size="19" fill="#1a1ae8"><tspan font-style="italic">k</tspan><tspan dy="4.5" font-size="13">i</tspan></text>
<text transform="translate(218.5,468.0) scale(1.0,1)" font-size="19" fill="#1a1ae8"><tspan font-style="italic">k</tspan><tspan dy="4.5" font-size="13">sym</tspan></text>
<text transform="translate(489.5,453.5) scale(1.0,1)" font-size="19" fill="#1a1ae8"><tspan font-style="italic">k</tspan><tspan dy="4.5" font-size="13">asym</tspan></text>
<line x1="222.2" y1="580.5" x2="222.2" y2="555.7" stroke="#fff" stroke-width="2.7"/><polygon points="222.2,547.3 226.7,558.3 222.2,555.7 217.7,558.3" fill="#fff"/>
<line x1="222.2" y1="580.5" x2="243.6" y2="565.1" stroke="#fff" stroke-width="2.7"/><polygon points="250.4,560.2 244.1,570.3 243.6,565.1 238.8,563.0" fill="#fff"/>
<line x1="222.2" y1="580.5" x2="249.8" y2="586.9" stroke="#fff" stroke-width="2.7"/><polygon points="258.0,588.8 246.3,590.7 249.8,586.9 248.3,581.9" fill="#fff"/>
<text transform="translate(194.0,573.0) scale(1.0,1)" font-size="18.5" fill="#fff">Q<tspan dy="4" font-size="12.5" font-style="italic">z</tspan></text>
<text transform="translate(254.5,562.0) scale(1.0,1)" font-size="18.5" fill="#fff">Q<tspan dy="4" font-size="12.5" font-style="italic">x</tspan></text>
<text transform="translate(260.5,597.5) scale(1.0,1)" font-size="18.5" fill="#fff">Q<tspan dy="4" font-size="12.5" font-style="italic" fill="#f9bd5c">y</tspan></text>
<path d="M52,514.5 L80,810.3 L288.8,890.6" fill="none" stroke="#f7b70d" stroke-width="5" stroke-linejoin="miter"/>
<path d="M42.6,535.5 L52,514.5 L64,532.8" fill="none" stroke="#f7b70d" stroke-width="5" stroke-linejoin="miter" stroke-linecap="round"/>
<path d="M275.2,873.8 L288.8,890.6 L266.8,894.5" fill="none" stroke="#f7b70d" stroke-width="5" stroke-linejoin="miter" stroke-linecap="round"/>
<text transform="translate(58.8,772.3) rotate(-90) scale(1.06,1)" font-size="18" fill="#f7b70d">[001]</text>
<text transform="translate(71.0,846.6) scale(1.06,1)" font-size="18" fill="#f7b70d">[110]</text>
<text transform="translate(344.5,543.6) scale(1.0,1)" font-size="17.5" fill="#000">Si</text>
<text transform="translate(348.0,575.4) scale(1.0,1)" font-size="17.5" fill="#000">Ge</text>
<text transform="translate(339.5,602.2) scale(1.0,1)" font-size="17.5" fill="#000">SiGe</text>
<text transform="translate(338.8,720.6) scale(1.0,1)" font-size="17.5" fill="#000">Buffer</text>
<text transform="translate(0.5,606.0) scale(1.04,1)" font-size="17.5" fill="#000">×500</text>
<text transform="translate(184.5,650.5) rotate(14.5) scale(1.0,1)" font-size="18.5" fill="#e8232c">Doping</text>
<text transform="translate(-0.5,490.5) scale(1.05,1)" font-size="25" font-weight="bold" fill="#000">a</text>
<path d="M328.4,541.3 L341,535.3 M328.2,553.6 L344,556.2 M326.2,573.4 L341.7,574.0 M326,605.6 L382,617.4 M312.8,792.6 L360.5,807.3 M339.6,558 L339.4,572 M331.9,578 L331.5,603 M371.5,630 L364.7,697.2 M360.4,736.8 L355.6,790 M43.4,573.6 L55.5,568.6 M50,627.4 L61,622.3 M47.7,578 L51.6,620" fill="none" stroke="#555" stroke-width=".9"/>
<polygon points="339.7,555.8 341.8,563.8 337.4,563.8" fill="#3a3a3a"/>
<polygon points="339.3,573.8 337.2,565.8 341.6,565.8" fill="#3a3a3a"/>
<polygon points="332.0,574.8 335.7,586.9 327.9,586.7" fill="#3a3a3a"/>
<polygon points="331.4,606.3 327.7,594.2 335.5,594.4" fill="#3a3a3a"/>
<polygon points="372.0,618.3 377.3,639.0 362.7,637.6" fill="#3a3a3a"/>
<polygon points="354.3,804.8 348.4,784.3 363.6,785.7" fill="#3a3a3a"/>
<polygon points="47.3,574.4 51.3,585.7 45.3,586.3" fill="#3a3a3a"/>
<polygon points="52.0,624.5 47.9,612.9 53.9,612.3" fill="#3a3a3a"/>
<path d="M507.6,798.7 L591.0,797.9 L632.7,778.7 L632.7,657.7 L637.9,655.4 L643.1,653.4 L648.3,651.6 L653.5,649.9 L658.7,648.5 L663.9,647.2 L669.1,646.1 L674.3,645.3 L679.6,644.6 L684.8,644.1 L690.0,643.8 L695.2,643.7 L700.4,643.8 L705.6,644.1 L710.8,644.6 L716.0,645.3 L721.2,646.1 L726.4,647.2 L731.7,648.5 L736.9,649.9 L742.1,651.6 L747.3,653.4 L752.5,655.4 L757.7,657.7 L757.7,778.7 L799.4,797.9 L882.8,798.7" fill="none" stroke="#e8191c" stroke-width="1.7" stroke-linejoin="miter"/>
<path d="M507.6,754.8 L591.0,754.0 L632.7,735.2" fill="none" stroke="#e8191c" stroke-width="2" stroke-dasharray="6.5 4.6"/>
<path d="M632.7,689.6 L637.9,687.3 L643.1,685.2 L648.3,683.3 L653.5,681.6 L658.7,680.2 L663.9,678.9 L669.1,677.8 L674.3,676.9 L679.6,676.2 L684.8,675.7 L690.0,675.4 L695.2,675.3 L700.4,675.4 L705.6,675.7 L710.8,676.2 L716.0,676.9 L721.2,677.8 L726.4,678.9 L731.7,680.2 L736.9,681.6 L742.1,683.3 L747.3,685.2 L752.5,687.3 L757.7,689.6" fill="none" stroke="#e8191c" stroke-width="2" stroke-dasharray="6.5 4.6"/>
<path d="M757.7,735.2 L799.4,754.0 L882.8,754.8" fill="none" stroke="#e8191c" stroke-width="2" stroke-dasharray="6.5 4.6"/>
<path d="M507.6,792.3 L591.0,791.5 L632.7,772.3 L632.7,821.1 L637.9,818.8 L643.1,816.7 L648.3,814.8 L653.5,813.1 L658.7,811.6 L663.9,810.3 L669.1,809.2 L674.3,808.3 L679.6,807.6 L684.8,807.1 L690.0,806.8 L695.2,806.7 L700.4,806.8 L705.6,807.1 L710.8,807.6 L716.0,808.3 L721.2,809.2 L726.4,810.3 L731.7,811.6 L736.9,813.1 L742.1,814.8 L747.3,816.7 L752.5,818.8 L757.7,821.1 L757.7,772.3 L799.4,791.5 L882.8,792.3" fill="none" stroke="#0a7d1c" stroke-width="2.7" stroke-linejoin="miter"/>
<path d="M507.6,539.4 L591.0,538.6 L632.7,519.1 L632.7,678.5 L637.9,676.2 L643.1,674.1 L648.3,672.2 L653.5,670.5 L658.7,669.0 L663.9,667.7 L669.1,666.6 L674.3,665.7 L679.6,665.0 L684.8,664.5 L690.0,664.2 L695.2,664.1 L700.4,664.2 L705.6,664.5 L710.8,665.0 L716.0,665.7 L721.2,666.6 L726.4,667.7 L731.7,669.0 L736.9,670.5 L742.1,672.2 L747.3,674.1 L752.5,676.2 L757.7,678.5 L757.7,519.1 L799.4,538.6 L882.8,539.4" fill="none" stroke="#000" stroke-width="3" stroke-linejoin="miter"/>
<path d="M507.6,802.4 L512.3,802.4 L519.0,802.4 L526.9,802.4 L535.1,802.4 L542.8,802.4 L549.3,802.4 L554.5,802.3 L559.2,802.2 L563.4,802.0 L567.2,801.9 L570.8,801.6 L574.3,801.3 L577.6,800.8 L580.7,800.3 L583.5,799.7 L586.2,799.1 L588.6,798.3 L591.0,797.6 L593.1,796.8 L594.9,796.0 L596.6,795.1 L598.1,794.2 L599.7,793.1 L601.4,791.8 L603.2,790.4 L604.9,788.9 L606.7,787.3 L608.5,785.5 L610.2,783.6 L611.8,781.5 L613.3,779.2 L614.8,776.7 L616.2,774.0 L617.6,771.2 L618.9,768.4 L620.1,765.6 L621.3,762.9 L622.4,760.2 L623.4,757.4 L624.4,754.6 L625.4,751.6 L626.4,748.4 L627.4,745.3 L628.3,742.6 L629.3,739.6 L630.3,736.1 L631.4,731.6 L632.7,725.6 L634.2,717.8 L635.8,708.4 L637.6,698.0 L639.4,687.2 L641.3,676.4 L643.1,666.3 L644.8,656.5 L646.6,646.8 L648.3,637.0 L650.0,627.6 L651.8,618.5 L653.5,609.9 L655.2,601.9 L657.0,594.2 L658.7,586.8 L660.4,579.9 L662.2,573.4 L663.9,567.4 L665.7,561.8 L667.4,556.6 L669.1,551.9 L670.9,547.5 L672.6,543.5 L674.3,539.8 L676.1,536.5 L677.8,533.5 L679.6,530.9 L681.3,528.6 L683.0,526.6 L684.8,524.8 L686.5,523.3 L688.2,522.1 L690.0,521.2 L691.7,520.6 L693.4,520.2 L695.2,520.1 L696.9,520.2 L698.7,520.6 L700.4,521.2 L702.1,522.1 L703.9,523.3 L705.6,524.8 L707.3,526.6 L709.1,528.6 L710.8,530.9 L712.6,533.5 L714.3,536.5 L716.0,539.8 L717.8,543.5 L719.5,547.5 L721.2,551.9 L723.0,556.6 L724.7,561.8 L726.4,567.4 L728.2,573.4 L729.9,579.9 L731.7,586.8 L733.4,594.2 L735.1,601.9 L736.9,609.9 L738.6,618.5 L740.3,627.6 L742.1,637.0 L743.8,646.8 L745.6,656.5 L747.3,666.3 L749.1,676.4 L750.9,687.2 L752.8,698.0 L754.5,708.4 L756.2,717.8 L757.7,725.6 L759.0,731.6 L760.1,736.1 L761.1,739.6 L762.0,742.6 L763.0,745.3 L764.0,748.4 L765.0,751.6 L766.0,754.6 L767.0,757.4 L768.0,760.2 L769.1,762.9 L770.2,765.6 L771.5,768.4 L772.8,771.2 L774.1,774.0 L775.5,776.7 L777.0,779.2 L778.6,781.5 L780.2,783.6 L781.9,785.5 L783.6,787.3 L785.4,788.9 L787.2,790.4 L789.0,791.8 L790.6,793.1 L792.2,794.2 L793.8,795.1 L795.5,796.0 L797.3,796.8 L799.4,797.6 L801.7,798.3 L804.2,799.1 L806.8,799.7 L809.7,800.3 L812.7,800.8 L816.1,801.3 L819.6,801.6 L823.2,801.9 L827.0,802.0 L831.2,802.2 L835.9,802.3 L841.1,802.4 L847.5,802.4 L855.3,802.4 L863.5,802.4 L871.3,802.4 L878.0,802.4 L882.8,802.4" fill="none" stroke="#0a0ae4" stroke-width="3" stroke-linejoin="round"/>
<path d="M507.6,502.2 H882.9 M507.6,502.2 V841.2 M506.90000000000003,841.2 H883.6" fill="none" stroke="#000" stroke-width="1.5"/>
<line x1="882.9" x2="882.9" y1="501.5" y2="841.9000000000001" stroke="#1919d7" stroke-width="1.5"/>
<path d="M549.3,841.2 v-3.5 M549.3,502.2 v3.5 M591.0,841.2 v-6.5 M591.0,502.2 v6.5 M632.7,841.2 v-3.5 M632.7,502.2 v3.5 M674.3,841.2 v-6.5 M674.3,502.2 v6.5 M716.0,841.2 v-3.5 M716.0,502.2 v3.5 M757.7,841.2 v-6.5 M757.7,502.2 v6.5 M799.4,841.2 v-3.5 M799.4,502.2 v3.5 M841.1,841.2 v-6.5 M841.1,502.2 v6.5 M507.6,821.5 h3.5 M507.6,801.5 h6.5 M507.6,781.5 h3.5 M507.6,761.5 h6.5 M507.6,741.6 h3.5 M507.6,721.6 h6.5 M507.6,701.6 h3.5 M507.6,681.6 h6.5 M507.6,661.7 h3.5 M507.6,641.7 h6.5 M507.6,621.7 h3.5 M507.6,601.8 h6.5 M507.6,581.8 h3.5 M507.6,561.8 h6.5 M507.6,541.8 h3.5 M507.6,521.8 h6.5" stroke="#000" stroke-width="1.3" fill="none"/>
<path d="M882.9,824.5 h-3.5 M882.9,803.0 h-6.5 M882.9,781.5 h-3.5 M882.9,760.0 h-6.5 M882.9,738.5 h-3.5 M882.9,717.0 h-6.5 M882.9,695.5 h-3.5 M882.9,674.0 h-6.5 M882.9,652.5 h-3.5 M882.9,631.0 h-6.5 M882.9,609.5 h-3.5 M882.9,588.0 h-6.5 M882.9,566.5 h-3.5 M882.9,545.0 h-6.5 M882.9,523.5 h-3.5" stroke="#1919d7" stroke-width="1.3" fill="none"/>
<text transform="translate(501.3,847.6) scale(1.1,1)" font-size="17" text-anchor="end" fill="#000">–0.05</text>
<text transform="translate(501.3,807.6) scale(1.1,1)" font-size="17" text-anchor="end" fill="#000">0.00</text>
<text transform="translate(501.3,767.6) scale(1.1,1)" font-size="17" text-anchor="end" fill="#000">0.05</text>
<text transform="translate(501.3,727.7) scale(1.1,1)" font-size="17" text-anchor="end" fill="#000">0.10</text>
<text transform="translate(501.3,687.8) scale(1.1,1)" font-size="17" text-anchor="end" fill="#000">0.15</text>
<text transform="translate(501.3,647.8) scale(1.1,1)" font-size="17" text-anchor="end" fill="#000">0.20</text>
<text transform="translate(501.3,607.9) scale(1.1,1)" font-size="17" text-anchor="end" fill="#000">0.25</text>
<text transform="translate(501.3,567.9) scale(1.1,1)" font-size="17" text-anchor="end" fill="#000">0.30</text>
<text transform="translate(501.3,527.9) scale(1.1,1)" font-size="17" text-anchor="end" fill="#000">0.35</text>
<text transform="translate(509.1,862.0) scale(1.1,1)" font-size="17" text-anchor="middle" fill="#000">0</text>
<text transform="translate(591.5,862.0) scale(1.1,1)" font-size="17" text-anchor="middle" fill="#000">10</text>
<text transform="translate(674.8,862.0) scale(1.1,1)" font-size="17" text-anchor="middle" fill="#000">20</text>
<text transform="translate(758.2,862.0) scale(1.1,1)" font-size="17" text-anchor="middle" fill="#000">30</text>
<text transform="translate(841.6,862.0) scale(1.1,1)" font-size="17" text-anchor="middle" fill="#000">40</text>
<text transform="translate(889.5,809.5) scale(1.1,1)" font-size="17" fill="#1919d7">0.0</text>
<text transform="translate(889.5,766.5) scale(1.1,1)" font-size="17" fill="#1919d7">0.1</text>
<text transform="translate(889.5,723.5) scale(1.1,1)" font-size="17" fill="#1919d7">0.2</text>
<text transform="translate(889.5,680.5) scale(1.1,1)" font-size="17" fill="#1919d7">0.3</text>
<text transform="translate(889.5,637.5) scale(1.1,1)" font-size="17" fill="#1919d7">0.4</text>
<text transform="translate(889.5,594.5) scale(1.1,1)" font-size="17" fill="#1919d7">0.5</text>
<text transform="translate(889.5,551.5) scale(1.1,1)" font-size="17" fill="#1919d7">0.6</text>
<text transform="translate(889.5,508.5) scale(1.1,1)" font-size="17" fill="#1919d7">0.7</text>
<text transform="translate(695.0,889.8) scale(1.07,1)" font-size="17.5" text-anchor="middle" fill="#000">Position (nm)</text>
<text transform="translate(440.8,673.0) rotate(-90) scale(1.05,1)" font-size="17.5" text-anchor="middle" fill="#000">Energy (eV)</text>
<text transform="translate(940.5,672.3) rotate(-90) scale(1.066,1)" font-size="17.5" text-anchor="middle" fill="#1919d7">Electron density (10<tspan dy="-6" font-size="11.5">18</tspan><tspan dy="6"> cm</tspan><tspan dy="-6" font-size="11.5">−3</tspan><tspan dy="6">)</tspan></text>
<text transform="translate(526.5,567.5) scale(1.0,1)" font-size="19" fill="#000" font-family="'Liberation Serif', serif">Γ</text>
<text transform="translate(526.5,737.0) scale(1.05,1)" font-size="18" fill="#e8191c">Δ<tspan dy="4.5" font-size="12.5">4</tspan></text>
<text transform="translate(526.5,783.3) scale(1.1,1)" font-size="18" fill="#0a7d1c">L</text>
<text transform="translate(526.5,824.0) scale(1.05,1)" font-size="18" fill="#e8191c">Δ<tspan dy="4.5" font-size="12.5">2</tspan></text>
<text transform="translate(426.0,490.0) scale(1.05,1)" font-size="25" font-weight="bold" fill="#000">d</text>
</svg>
</body></html>
